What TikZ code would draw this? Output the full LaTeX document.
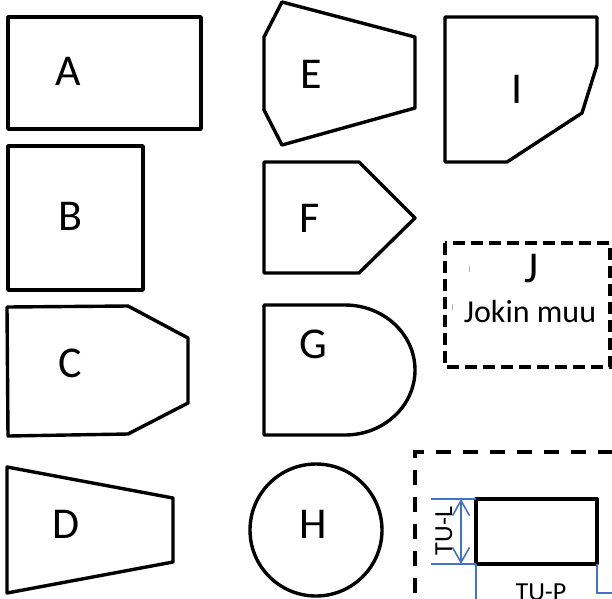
\documentclass[tikz,border=0pt]{standalone}
\usepackage{fontspec}
\setmainfont{Carlito}
\usetikzlibrary{arrows.meta}
\definecolor{dimblue}{RGB}{68,114,196}
\tikzset{
  shp/.style={draw=black, line width=3.4pt, line join=round},
  lbl/.style={anchor=base, inner sep=0pt, font=\fontsize{44}{48}\selectfont},
  small/.style={anchor=base, inner sep=0pt, font=\fontsize{32}{36}\selectfont},
  dimtxt/.style={anchor=base, inner sep=0pt, font=\fontsize{26}{30}\selectfont},
  dimline/.style={draw=dimblue, line width=1.6pt},
  dashbox/.style={draw=black, line width=3.4pt, dash pattern=on 12pt off 6pt},
  bigdash/.style={draw=black, line width=3.4pt, dash pattern=on 15pt off 12pt},
}
\begin{document}
\begin{tikzpicture}[x=1pt,y=-1pt]
\useasboundingbox (0,0) rectangle (612,598);
\clip (0,0) rectangle (612,598);
% A
\draw[shp] (8,17) rectangle (201,129);
\node[lbl] (A) at (68,85) {A};
% B
\draw[shp] (8,146) rectangle (143,290);
\node[lbl] (B) at (70,230) {B};
% C
\draw[shp] (7,307) -- (128,306) -- (188,338) -- (188,403) -- (128,434) -- (8,436) -- cycle;
\node[lbl] (C) at (70,377) {C};
% D
\draw[shp] (7,467) -- (173,498) -- (173,562) -- (7,593) -- cycle;
\node[lbl] (D) at (66,538) {D};
% E
\draw[shp] (282,2) -- (415,37) -- (415,108) -- (282,145) -- (264,110) -- (264,37) -- cycle;
\node[lbl] (E) at (311,88) {E};
% F
\draw[shp] (264,162) -- (359,162) -- (415,218) -- (359,273) -- (264,273) -- cycle;
\node[lbl] (F) at (310,232) {F};
% G
\draw[shp] (264,305) -- (345,305) .. controls (383.7,305) and (415,334.1) .. (415,370)
  .. controls (415,405.9) and (383.7,435) .. (345,435) -- (264,435) -- cycle;
\node[lbl] (G) at (313,358) {G};
% H
\draw[shp] (316,530) circle[radius=66];
\node[lbl] (H) at (313,538) {H};
% I
\draw[shp] (445,17) -- (597,17) -- (597,65) -- (582,113) -- (507,162) -- (445,162) -- cycle;
\node[lbl] (I) at (517,103) {I};
% J
\draw[dashbox] (445,243) rectangle (610,367);
\node[lbl] (J) at (532,282) {J};
\node[small] (Jm) at (530,322) {Jokin muu};
\draw[gray!60, line width=0.8pt] (469,266) -- (469,272);
\draw[gray!60, line width=0.8pt] (452,304) -- (452,310);
% big dashed box
\draw[bigdash] (415,620) -- (415,452) -- (630,452);
% inner rectangle
\draw[shp] (476,499) rectangle (597,564);
\coordinate (tl) at (476,499);
\coordinate (bl) at (476,564);
\coordinate (br) at (597,564);
\coordinate (et) at (431,499);
\coordinate (eb) at (431,564);
\coordinate (at) at (461,499);
\coordinate (ab) at (461,564);
\coordinate (bld) at (476,610);
\coordinate (brd) at (597,593);
\coordinate (brr) at (620,593);
\draw[dimline] (et) -- (tl);
\draw[dimline] (eb) -- (bl);
\draw[dimline, {Straight Barb[length=15pt,width=17pt]}-{Straight Barb[length=15pt,width=17pt]}] (at) -- (ab);
\draw[dimline] (bl) -- (bld);
\draw[dimline] (br) -- (brd) -- (brr);
\node[dimtxt, rotate=90] (TUL) at (452,531) {TU-L};
\node[dimtxt] (TUP) at (541,600) {TU-P};
\end{tikzpicture}
\end{document}
